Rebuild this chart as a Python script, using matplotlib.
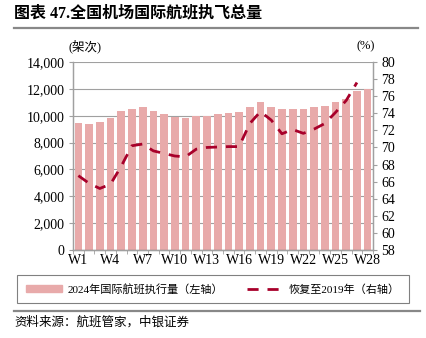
import matplotlib
matplotlib.use("Agg")
import matplotlib.pyplot as plt
import numpy as np
from matplotlib.lines import Line2D
from matplotlib.patches import Patch

plt.rcParams['font.family'] = ['Liberation Serif', 'Noto Sans CJK SC']

# 周次
weeks = ["W%d" % i for i in range(1, 29)]
# 2024年国际航班执行量（架次）
flights = [9450, 9400, 9550, 9800, 10370, 10500, 10670, 10370, 10100, 9880,
           9830, 9950, 9980, 10100, 10200, 10250, 10650, 11000, 10670, 10500,
           10520, 10520, 10650, 10750, 11000, 11250, 11820, 12000]
# 恢复至2019年（%）
recovery = [66.7, 65.8, 65.2, 65.7, 67.8, 70.2, 70.4, 69.6, 69.3, 69.0,
            68.9, 69.8, 70.0, 70.05, 70.1, 70.1, 72.8, 74.2, 73.2, 71.6,
            72.1, 71.65, 72.15, 72.8, 74.1, 75.5, 77.6]

bar_color = '#E8AAAA'
line_color = '#A8002A'
grid_color = '#A0A0A0'

fig = plt.figure(figsize=(4.26, 3.38), dpi=100)
ax = fig.add_axes([73/426, 1-250/338, 300/426, 188/338])
ax2 = ax.twinx()

x = np.arange(len(weeks))
ax.bar(x, flights, width=0.72, color=bar_color, zorder=2)
ax2.plot(x[:len(recovery)], recovery, color=line_color, lw=2.0,
         dashes=(4, 3.2), zorder=3)

ax.set_xlim(-0.5, len(weeks) - 0.5)
ax.set_ylim(0, 14000)
ax.set_yticks(range(0, 14001, 2000))
ax.set_yticklabels([format(v, ',') for v in range(0, 14001, 2000)])
ax2.set_ylim(58, 80)
ax2.set_yticks(range(58, 81, 2))

ax.set_xticks(x[::3])
ax.set_xticklabels(weeks[::3])
ax.set_xticks(np.arange(-0.5, len(weeks), 1), minor=True)
ax.tick_params(axis='x', which='major', length=0, pad=3, labelsize=10)
ax.tick_params(axis='x', which='minor', length=3, color=grid_color)
ax.tick_params(axis='y', length=3, color=grid_color, labelsize=10, pad=3)
ax2.tick_params(axis='y', length=3, color=grid_color, labelsize=10, pad=3)

ax.yaxis.grid(True, color=grid_color, lw=0.8, zorder=0)
ax.set_axisbelow(True)
for a in (ax, ax2):
    a.spines['top'].set_visible(False)
    for s in ('left', 'right', 'bottom'):
        a.spines[s].set_color(grid_color)
        a.spines[s].set_linewidth(0.9)
ax.spines['bottom'].set_color('#707070')

fig.text(85/426, 1-46/338, "(架次)", fontsize=9, ha='center', va='center')
fig.text(366/426, 1-46/338, "(%)", fontsize=9, ha='center', va='center')

# 标题与分隔线
fig.text(14/426, 1-13/338, "图表 47.全国机场国际航班执飞总量", fontsize=11.5,
         fontweight='bold', ha='left', va='center')
fig.add_artist(Line2D([14/426, 418/426], [1-28/338, 1-28/338], color='#888888', lw=1.6))
fig.add_artist(Line2D([14/426, 420/426], [1-311/338, 1-311/338], color='#888888', lw=1.6))
fig.text(14/426, 1-322/338, "资料来源：航班管家，中银证券", fontsize=9,
         style='italic', ha='left', va='center')

handles = [Patch(color=bar_color), Line2D([], [], color=line_color, lw=2, dashes=(4, 3.2))]
labels = ["2024年国际航班执行量（左轴）", "恢复至2019年（右轴）"]
leg = fig.legend(handles, labels, loc='center', bbox_to_anchor=(213/426, 1-289/338),
                 ncol=2, fontsize=8, frameon=True, fancybox=False, edgecolor='#606060',
                 handlelength=3.2, handleheight=0.6, handletextpad=0.5,
                 columnspacing=2.2, borderpad=0.8, borderaxespad=0)
leg.get_frame().set_linewidth(0.8)

fig.savefig("out.png", dpi=100)
